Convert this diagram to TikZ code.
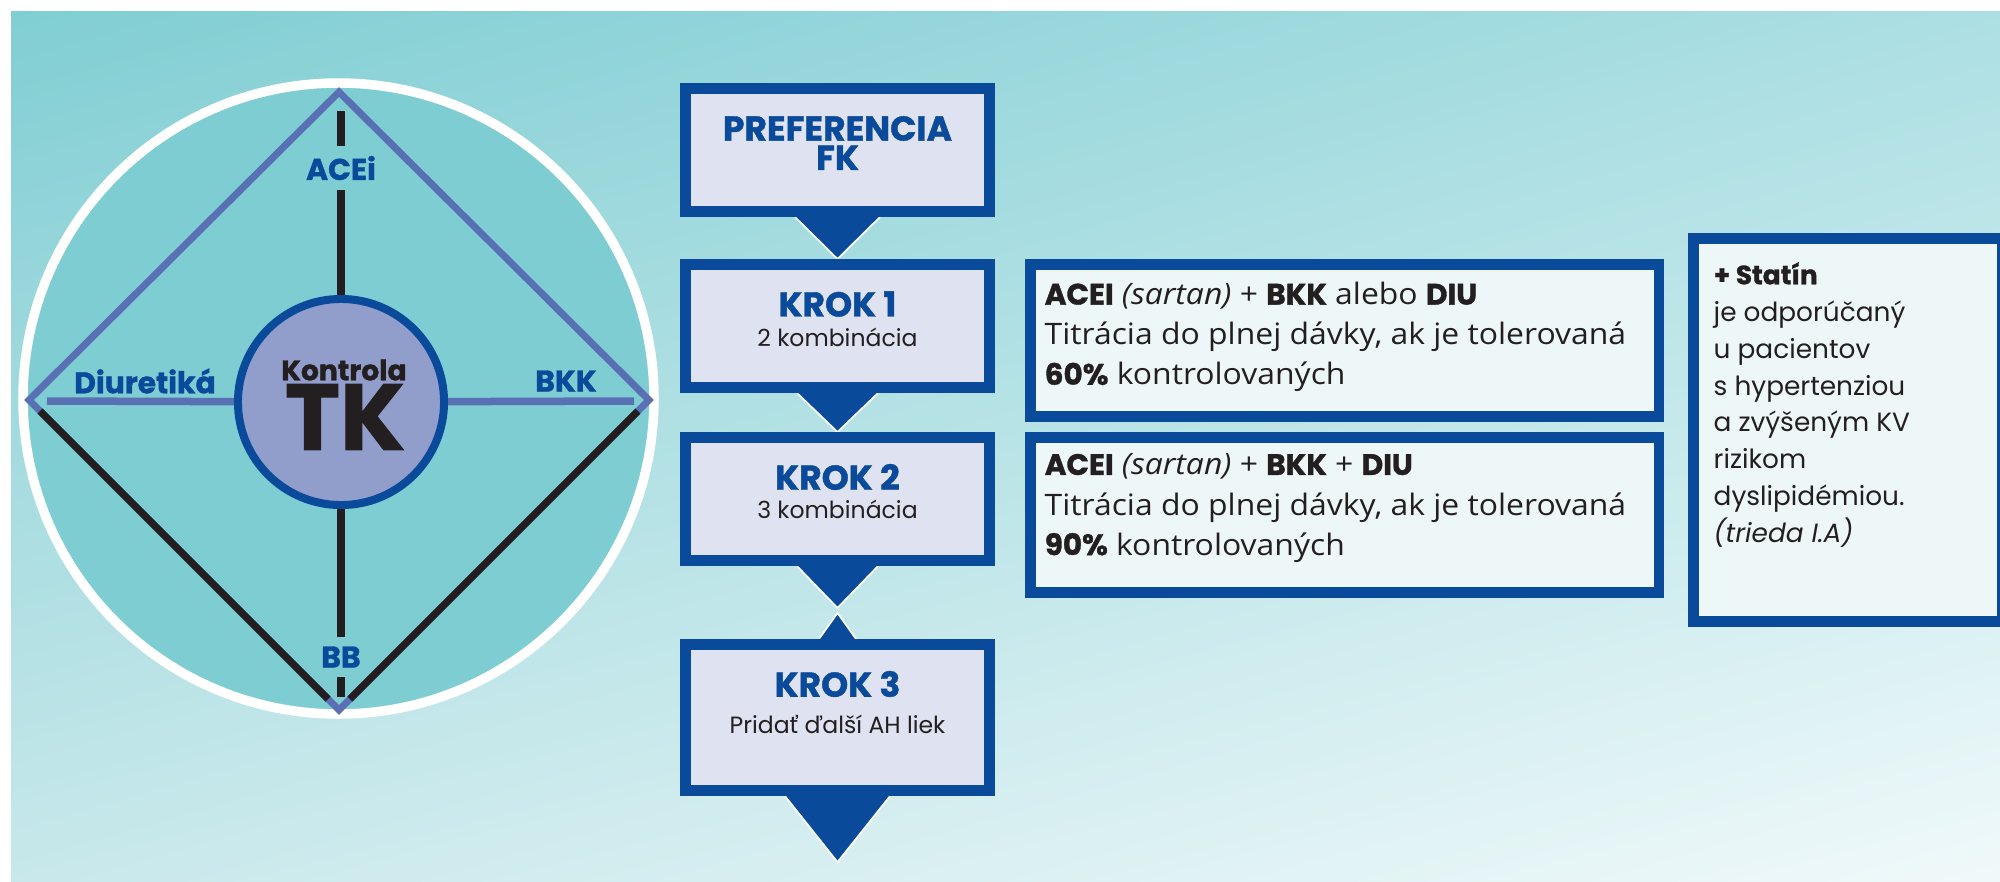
\documentclass[tikz,border=0pt]{standalone}
\usepackage{fontspec}
\setmainfont{Poppins}
\newfontfamily\heavyfont{Poppins}[BoldFeatures={FakeBold=1.2}]
\newfontfamily\notefont{Open Sans}[FakeStretch=1.08]
\usetikzlibrary{backgrounds,shadings}

\definecolor{bgtl}{HTML}{80CED3}
\definecolor{bgtr}{HTML}{ACDFE3}
\definecolor{bgbl}{HTML}{C8E8EB}
\definecolor{bgbr}{HTML}{F0F9FA}
\definecolor{ringteal}{HTML}{7ECDD2}
\definecolor{hublilac}{HTML}{919DCB}
\definecolor{krokblue}{HTML}{0A4A9A}
\definecolor{rimpurple}{HTML}{5A70B5}
\definecolor{spokeblack}{HTML}{231F20}
\definecolor{krokfill}{HTML}{DFE3F1}
\definecolor{notefill}{HTML}{EEF7F8}

\newcommand{\kw}[1]{{\heavyfont\bfseries #1}}

\tikzset{
  krokbox/.style={draw=krokblue, fill=krokfill, line width=0.107cm, minimum width=3.043cm, inner sep=0pt},
  notebox/.style={draw=krokblue, fill=notefill, line width=0.107cm, inner sep=0pt},
  kroktitle/.style={text=krokblue, font=\heavyfont\fontsize{9.8}{8.3}\selectfont\bfseries, inner sep=0pt},
  kroksub/.style={text=spokeblack, font=\fontsize{6.7}{7}\selectfont, inner sep=0pt},
  drug/.style={text=krokblue, font=\heavyfont\fontsize{8.5}{9}\selectfont\bfseries, inner xsep=1pt, inner ysep=2.6pt},
  pointer/.style={fill=krokblue, draw=white!85!krokfill, line width=0.5pt, line join=miter},
  notetext/.style={align=left, anchor=west, inner sep=0pt, text=spokeblack},
}

\begin{document}
\begin{tikzpicture}[x=0.01cm,y=-0.01cm]
\useasboundingbox (0,0) rectangle (2000,881);

% Background
\begin{scope}[on background layer]
\fill[white] (0,0) rectangle (2000,881);
\shade[upper left=bgtl, upper right=bgtr, lower left=bgbl, lower right=bgbr] (11,11) rectangle (2000,881);
\end{scope}

% Circle with diamond
\filldraw[fill=ringteal, draw=white, line width=0.095cm] (338.5,398.5) circle (315.5);
\coordinate (dtop) at (339,92);
\coordinate (dright) at (649,400);
\coordinate (dbot) at (339,710);
\coordinate (dleft) at (29,400);
\draw[rimpurple, line width=0.07cm, line join=miter] (dtop) -- (dright) -- (dbot) -- (dleft) -- cycle;
\draw[spokeblack, line width=0.072cm] (40,411) -- (328,699);
\draw[spokeblack, line width=0.072cm] (638,411) -- (350,699);

% Hub and spokes
\node[circle, draw=krokblue, fill=hublilac, line width=0.08cm, minimum size=2.06cm, inner sep=0pt] (hub) at (341,402) {};
\node[text=spokeblack, font=\heavyfont\fontsize{8}{9}\selectfont\bfseries, inner sep=0pt] (hubtop) at (344,370) {Kontrola};
\node[text=spokeblack, font=\heavyfont\fontsize{26.5}{26}\selectfont\bfseries, inner sep=0pt] (hubtk) at (345,417) {TK};

\node[drug] (acei) at (341,168) {ACEi};
\node[drug] (bb) at (341,657) {BB};
\node[drug, inner sep=0pt] (diu) at (145,381) {Diuretiká};
\node[drug, inner sep=0pt] (bkk) at (566,381) {BKK};

\coordinate (acetop) at (341,111);
\coordinate (bbend) at (341,697);
\coordinate (diuend) at (47,401);
\coordinate (bkkend) at (634,401);
\draw[spokeblack, line width=0.08cm] (acetop) -- (acei) (acei) -- (hub) (hub) -- (bb) (bb) -- (bbend);
\draw[rimpurple, line width=0.075cm] (diuend) -- (hub) (hub) -- (bkkend);

% Steps
\node[krokbox, minimum height=1.233cm] (pref) at (837.5,150) {};
\node[krokbox, minimum height=1.233cm] (k1) at (837.5,326) {};
\node[krokbox, minimum height=1.233cm] (k2) at (837.5,499) {};
\node[krokbox, minimum height=1.463cm] (k3) at (837.5,717.5) {};

\node[kroktitle, align=center] (preftext) at (837.5,143) {PREFERENCIA\\FK};
\node[kroktitle] (k1title) at (837.5,304) {KROK 1};
\node[kroksub] (k1sub) at (837.5,337) {2 kombinácia};
\node[kroktitle] (k2title) at (837.5,477) {KROK 2};
\node[kroksub] (k2sub) at (837.5,509) {3 kombinácia};
\node[kroktitle] (k3title) at (837.5,684) {KROK 3};
\node[kroksub] (k3sub) at (837.5,724) {Pridať ďalší AH liek};

% Pointers between steps
\coordinate (k3gap) at ([yshift=0.31cm]k3.north);
\coordinate (k3notch) at ([yshift=0.26cm]k3.north);
\coordinate (k3tip) at ([yshift=-0.66cm]k3.south);
\begin{scope}[on background layer]
\filldraw[pointer] ([xshift=-0.425cm]pref.south) -- (k1.north) -- ([xshift=0.425cm]pref.south);
\filldraw[pointer] ([xshift=-0.405cm]k1.south) -- (k2.north) -- ([xshift=0.405cm]k1.south);
\filldraw[pointer] ([xshift=-0.405cm]k2.south) -- (k3gap) -- ([xshift=0.405cm]k2.south);
\filldraw[pointer] ([xshift=-0.185cm]k3.north) -- (k3notch) -- ([xshift=0.185cm]k3.north);
\filldraw[pointer] ([xshift=-0.525cm]k3.south) -- (k3tip) -- ([xshift=0.525cm]k3.south);
\end{scope}

% Notes
\node[notebox, minimum width=6.283cm, minimum height=1.523cm] (note1) at (1344.5,340.5) {};
\node[notebox, minimum width=6.283cm, minimum height=1.553cm] (note2) at (1344.5,515) {};
\node[notebox, minimum width=3.093cm, minimum height=3.833cm] (statin) at (1848,430) {};

\node[notetext, font=\notefont\fontsize{8.4}{11.4}\selectfont] (note1text) at (1044,337)
  {\kw{ACEI} \textit{(sartan)} + \kw{BKK} alebo \kw{DIU}\\Titrácia do plnej dávky, ak je tolerovaná\\\kw{60\%} kontrolovaných};
\node[notetext, font=\notefont\fontsize{8.4}{11.4}\selectfont] (note2text) at (1044,508)
  {\kw{ACEI} \textit{(sartan)} + \kw{BKK} + \kw{DIU}\\Titrácia do plnej dávky, ak je tolerovaná\\\kw{90\%} kontrolovaných};
\node[notetext, font=\fontsize{7.5}{10.5}\selectfont] (statintext) at (1713,405)
  {\kw{+ Statín}\\je odporúčaný\\u pacientov\\s hypertenziou\\a zvýšeným KV\\rizikom\\dyslipidémiou.\\\textit{(trieda I.A)}};

\end{tikzpicture}
\end{document}
